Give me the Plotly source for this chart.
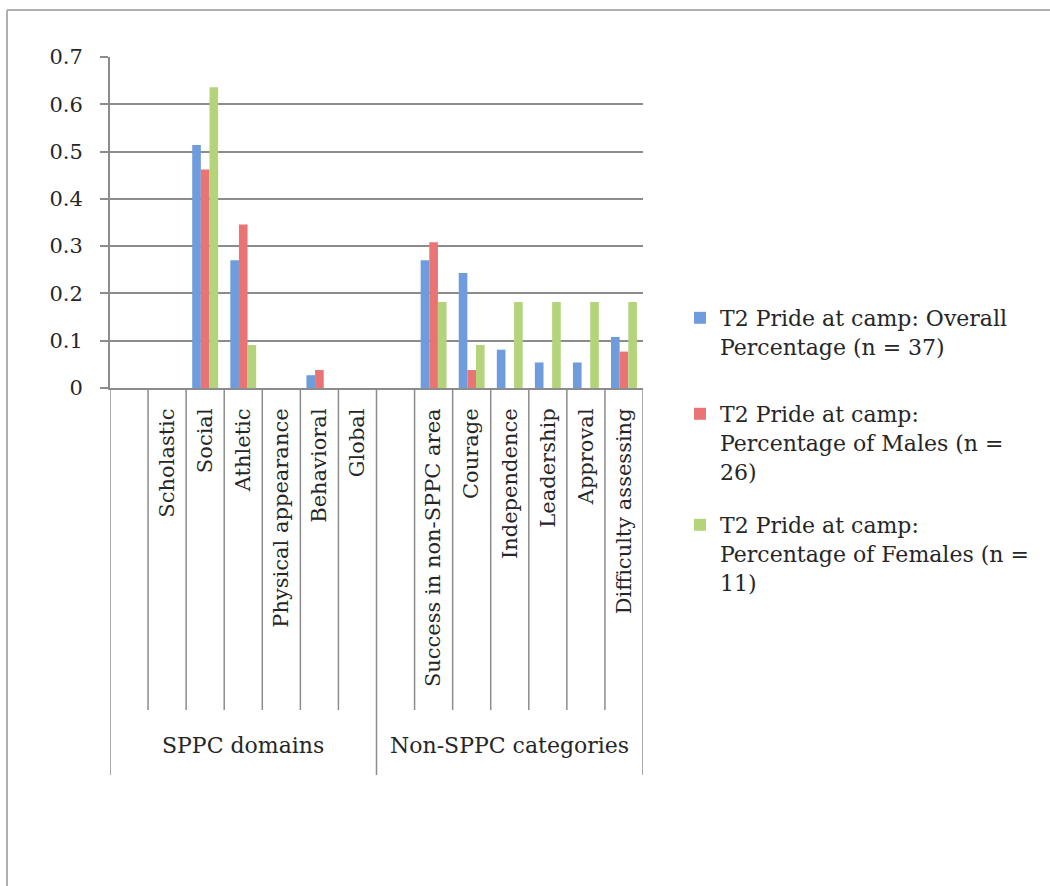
import plotly.graph_objects as go

# Category slots: each group starts with an unlabeled spacer slot
groups = ["SPPC domains", "Non-SPPC categories"]
categories = [
    "", "Scholastic", "Social", "Athletic", "Physical appearance", "Behavioral", "Global",
    "", "Success in non-SPPC area", "Courage", "Independence", "Leadership", "Approval",
    "Difficulty assessing",
]

series_names = [
    "T2 Pride at camp: Overall<br>Percentage (n = 37)",
    "T2 Pride at camp:<br>Percentage of Males (n =<br>26)",
    "T2 Pride at camp:<br>Percentage of Females (n =<br>11)",
]
overall = [0, 0, 0.514, 0.270, 0, 0.027, 0, 0, 0.270, 0.243, 0.081, 0.054, 0.054, 0.108]
males = [0, 0, 0.462, 0.346, 0, 0.038, 0, 0, 0.308, 0.038, 0, 0, 0, 0.077]
females = [0, 0, 0.636, 0.091, 0, 0, 0, 0, 0.182, 0.091, 0.182, 0.182, 0.182, 0.182]

colors = ["#6f9cdc", "#ea7474", "#b4d47c"]

W, H = 1050, 886
L, R, T, B = 110, 643, 57, 388  # plot area in pixels


def px_x(p):
    return (p - L) / (R - L)


def px_y(p):
    return (B - p) / (B - T)


xpos = list(range(len(categories)))
fig = go.Figure()
legend_ids = ["legend", "legend2", "legend3"]
for name, vals, col, lg in zip(series_names, [overall, males, females], colors, legend_ids):
    fig.add_bar(x=xpos, y=vals, name=name, marker_color=col,
                marker_line_width=0, legend=lg, showlegend=True)

grey = "#8c8c8c"
text_col = "#262626"

shapes = []
# separators between category slots
n = len(categories)
for i in range(n + 1):
    b = i - 0.5
    long_line = i in (0, 7, n)
    y_end = 775 if long_line else 710
    shapes.append(dict(type="line", xref="x", yref="paper", x0=b, x1=b,
                       y0=0, y1=px_y(y_end), line=dict(color=grey, width=1.5)))
# outer frame (top and left edges)
shapes.append(dict(type="line", xref="paper", yref="paper", x0=px_x(7), x1=px_x(W),
                   y0=px_y(10), y1=px_y(10), line=dict(color="#b0b0b0", width=2)))
shapes.append(dict(type="line", xref="paper", yref="paper", x0=px_x(7), x1=px_x(7),
                   y0=px_y(10), y1=px_y(H), line=dict(color="#b0b0b0", width=2)))

annotations = [
    dict(text=groups[0], xref="x", yref="paper", x=3, y=px_y(745), showarrow=False,
         font=dict(size=22, color=text_col), xanchor="center", yanchor="middle"),
    dict(text=groups[1], xref="x", yref="paper", x=10, y=px_y(745), showarrow=False,
         font=dict(size=22, color=text_col), xanchor="center", yanchor="middle"),
]

legend_common = dict(xref="container", yref="container", xanchor="left", yanchor="top",
                     bgcolor="rgba(0,0,0,0)", font=dict(size=22, color=text_col),
                     valign="top", itemwidth=30)
legend_tops = [297, 393, 504]
legend_x = 680 / W

fig.update_layout(
    width=W, height=H,
    margin=dict(l=L, r=W - R, t=T, b=H - B),
    plot_bgcolor="white", paper_bgcolor="white",
    font=dict(family="DejaVu Serif", color=text_col),
    showlegend=True,
    barmode="group", bargap=0.32, bargroupgap=0,
    shapes=shapes, annotations=annotations,
    xaxis=dict(range=[-0.5, n - 0.5], tickmode="array",
               tickvals=[i for i, c in enumerate(categories) if c],
               ticktext=[c for c in categories if c], tickangle=-90,
               ticks="", showline=True, linecolor=grey, linewidth=2,
               showgrid=False, zeroline=False, tickfont=dict(size=21, color=text_col),
               ticklabelstandoff=10),
    yaxis=dict(range=[0, 0.7], tick0=0, dtick=0.1, showgrid=True, gridcolor=grey,
               gridwidth=1.5, showline=True, linecolor=grey, linewidth=2,
               ticks="outside", ticklen=8, tickcolor=grey, tickwidth=2,
               zeroline=False, tickfont=dict(size=21, color=text_col),
               ticklabelstandoff=13),
    legend=dict(x=legend_x, y=1 - legend_tops[0] / H, **legend_common),
    legend2=dict(x=legend_x, y=1 - legend_tops[1] / H, **legend_common),
    legend3=dict(x=legend_x, y=1 - legend_tops[2] / H, **legend_common),
)

fig.write_html("out.html")
